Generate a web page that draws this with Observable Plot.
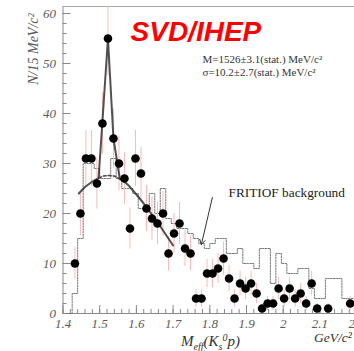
<!DOCTYPE html>
<html><head><meta charset="utf-8">
<script src="https://cdn.jsdelivr.net/npm/d3@7"></script>
<script src="https://cdn.jsdelivr.net/npm/@observablehq/plot@0.6"></script>
<style>body{margin:0;background:#fff}#chart svg{display:block}</style>
</head><body><div id="chart"></div>
<script>
// Data points (bin centres, GeV/c^2) and counts per 15 MeV/c^2
const massCenters = [1.4325,1.4475,1.4625,1.4775,1.4925,1.5075,1.5225,1.5375,1.5525,1.5675,1.5825,1.5975,1.6125,1.6275,1.6425,1.6575,1.6725,1.6875,1.7025,1.7175,1.7325,1.7475,1.7625,1.7775,1.7925,1.8075,1.8225,1.8375,1.8525,1.8675,1.8825,1.8975,1.9125,1.9275,1.9425,1.9575,1.9725,1.9875,2.0025,2.0175,2.0325,2.0475,2.0625,2.0775,2.0925,2.1225,2.1825];
const counts = [10,20,31,31,26,38,55,35,30,27,17,31,28,21,19,18,20,12,16,18,13,12,3,3,8,8,9,11,7,3,6,5,6,4,1,2,2,5,3,5,3,4,2,6,1,1,2];

// FRITIOF background histogram: bin lower edges and contents
const bgEdges = [1.41,1.425,1.44,1.455,1.47,1.485,1.50,1.515,1.53,1.545,1.56,1.575,1.59,1.605,1.62,1.635,1.65,1.665,1.68,1.695,1.71,1.725,1.74,1.755,1.77,1.785,1.80,1.815,1.83,1.845,1.86,1.875,1.89,1.905,1.92,1.935,1.95,1.965,1.98,1.995,2.01,2.025,2.04,2.055,2.07,2.085,2.10,2.115,2.13,2.145,2.16,2.175,2.19,2.205];
const bgCounts = [0,4,15,30,30,29,27,27,31,27,25,25,24,21,21,24,20,25,19,18,17,17,16,15,14,13,14,15,15,12,12,13,10,10,9,13,13,6,12,10,8,8,9,9,5,3,3,7,7,7,3,3,3,3];

// Fit curve (signal + background)
const fitX = [1.443,1.46,1.48,1.497,1.5075,1.5225,1.5375,1.555,1.57,1.58,1.60,1.62,1.64,1.66,1.68,1.70];
const fitY = [24,25.3,26.4,27.1,38.5,55,35,26.9,26.2,25.5,23.8,22,20,18,15.8,13.6];
// Background part of the fit under the peak (dashed)
const bgFitX = [1.497,1.51,1.525,1.54,1.555];
const bgFitY = [27.1,27.5,27.6,27.5,26.9];

const yTicks = [0,10,20,30,40,50,60];
const xTicks = [1.4,1.5,1.6,1.7,1.8,1.9,2.0,2.1,2.2];
const xTickLabels = ["1.4","1.5","1.6","1.7","1.8","1.9","2","2.1","2.2"];

const pts = massCenters.map((m,i)=>({m, n: counts[i]}));
const hist = bgEdges.map((e,i)=>({x:e, y: bgCounts[i]}));
const fit = fitX.map((x,i)=>({x, y: fitY[i]}));
const bgFit = bgFitX.map((x,i)=>({x, y: bgFitY[i]}));

const X0 = 1.4, PXU = 367, YU = 5; // helper for tick lengths in data units
const serif = "Liberation Serif, Times New Roman, serif";
const axisCol = "#8a8a8a", labCol = "#5a5a5a";

const yMinor = d3.range(0, 61.01, 2);
const xMinor = d3.range(1.4, 2.2001, 0.02);

const chart = Plot.plot({
  width: 354, height: 351,
  margin: 0,
  x: {domain: [1.4, 2.2], range: [62.5, 356.1], axis: null},
  y: {domain: [0, 61.4], range: [313, 6], axis: null},
  marks: [
    // frame lines
    Plot.ruleX([1.4], {y1: 0, y2: 61.4, stroke: axisCol}),
    Plot.ruleY([0], {x1: 1.4, x2: 2.2, stroke: axisCol}),
    Plot.ruleY([61.4], {x1: 1.4, x2: 2.2, stroke: "#aaa"}),
    // ticks
    Plot.ruleY(yMinor, {y: d=>d, x1: X0, x2: X0 + 4/PXU, stroke: axisCol}),
    Plot.ruleY(yTicks, {y: d=>d, x1: X0, x2: X0 + 8/PXU, stroke: axisCol}),
    Plot.ruleX(xMinor, {x: d=>d, y1: 0, y2: 4/YU, stroke: axisCol}),
    Plot.ruleX(xTicks, {x: d=>d, y1: 0, y2: 8/YU, stroke: axisCol}),
    Plot.text(yTicks, {x: X0, y: d=>d, text: d=>String(d), dx: -7, textAnchor: "end", fontFamily: serif, fontStyle: "italic", fontSize: 13, fill: labCol}),
    Plot.text(xTicks, {x: d=>d, y: 0, text: (d,i)=>xTickLabels[i], dy: 10, fontFamily: serif, fontStyle: "italic", fontSize: 13, fill: labCol}),
    // background histogram
    Plot.line(hist, {x: "x", y: "y", curve: "step-after", stroke: "#777", strokeWidth: 1, strokeDasharray: "1.5,1.2"}),
    // error bars
    Plot.ruleX(pts, {x: "m", y1: d=>d.n - Math.sqrt(d.n), y2: d=>Math.min(61.4, d.n + Math.sqrt(d.n)), stroke: "#f5baba", strokeWidth: 1}),
    // fit
    Plot.line(bgFit, {x: "x", y: "y", stroke: "#444", strokeWidth: 1.5, strokeDasharray: "3,2"}),
    Plot.line(fit, {x: "x", y: "y", stroke: "#333", strokeWidth: 2, strokeOpacity: 0.85}),
    // data points
    Plot.dot(pts, {x: "m", y: "n", r: 4.3, fill: "#000", stroke: "none"}),
    // annotations
    Plot.text(["SVD/IHEP"], {x: 1.584, y: 54.6, textAnchor: "start", lineAnchor: "bottom", fontFamily: "Liberation Sans, Arial, sans-serif", fontWeight: "bold", fontStyle: "italic", fontSize: 28, fill: "#ff0000"}),
    Plot.text(["M=1526±3.1(stat.) MeV/c²"], {x: 1.780, y: 50.2, textAnchor: "start", lineAnchor: "bottom", fontFamily: serif, fontSize: 11, fill: "#333"}),
    Plot.text(["σ=10.2±2.7(stat.) MeV/c²"], {x: 1.780, y: 47.6, textAnchor: "start", lineAnchor: "bottom", fontFamily: serif, fontSize: 11, fill: "#333"}),
    Plot.text(["FRITIOF background"], {x: 1.851, y: 23.4, textAnchor: "start", lineAnchor: "bottom", fontFamily: serif, fontSize: 13.3, fill: "#222"}),
    Plot.arrow([{x1: 1.807, y1: 23.2, x2: 1.777, y2: 13.8}], {x1: "x1", y1: "y1", x2: "x2", y2: "y2", stroke: "#333", strokeWidth: 1, headLength: 8}),
    Plot.text(["N/15 MeV/c²"], {x: X0, y: 52.9, dx: -29.5, rotate: -90, fontFamily: serif, fontStyle: "italic", fontSize: 14, fill: labCol}),
    Plot.text(["XLABEL"], {x: 1.802, y: -6.4, lineAnchor: "bottom", fontFamily: serif, fontStyle: "italic", fontSize: 15, fill: "#333"}),
    Plot.text(["GeV/c²"], {x: 2.084, y: -4.8, textAnchor: "start", fontFamily: serif, fontStyle: "italic", fontSize: 13.5, fill: "#333"})
  ]
});
document.getElementById("chart").appendChild(chart);
// rich x-axis label with sub/superscripts
d3.select(chart).selectAll("text").filter(function(){ return this.textContent === "XLABEL"; })
  .each(function(){
    const t = d3.select(this); t.text("");
    t.append("tspan").text("M");
    t.append("tspan").attr("font-size", 10).attr("dy", 4).text("eff");
    t.append("tspan").attr("dy", -4).text("(K");
    t.append("tspan").attr("font-size", 10).attr("dy", 4).text("s");
    t.append("tspan").attr("font-size", 10).attr("dy", -9).text("0");
    t.append("tspan").attr("dy", 5).text("p)");
  });
</script>
</body></html>
